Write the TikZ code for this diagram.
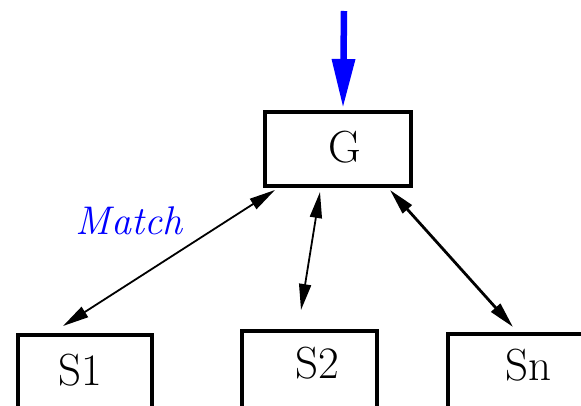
\documentclass[tikz,border=0pt]{standalone}
\usepackage{fontspec}
\usetikzlibrary{arrows.meta}
\begin{document}
\begin{tikzpicture}[x=1pt,y=1pt,
  box/.style={draw=black,line width=4pt,rectangle,inner sep=0pt},
  lbl/.style={anchor=base,inner sep=0pt,font=\fontsize{45}{52}\selectfont},
  link/.style={draw=black,{Triangle[length=26pt,width=12pt]}-{Triangle[length=26pt,width=12pt]}},
  feed/.style={draw=blue,line width=6.5pt,-{Triangle[length=49pt,width=22pt]}}]
\useasboundingbox (0,0) rectangle (581,405);
\clip (0,0) rectangle (581,405);
% boxes
\node[box,minimum width=146pt,minimum height=74pt] (G) at (338,256) {};
\node[box,minimum width=134pt,minimum height=90pt] (S1) at (85,25) {};
\node[box,minimum width=135pt,minimum height=94pt] (S2) at (309.5,27) {};
\node[box,minimum width=152pt,minimum height=91pt] (Sn) at (523.75,25.5) {};
% labels
\node[lbl] (Gt) at (344.5,243) {G};
\node[lbl] (S1t) at (80,20) {S1};
\node[lbl] (S2t) at (317,27) {S2};
\node[lbl] (Snt) at (528,25) {Sn};
\node[anchor=base,inner sep=0pt,text=blue,font=\fontsize{40}{46}\selectfont\itshape] (match) at (129,171) {Match};
% connectors
\coordinate (top) at (344,394);
\draw[feed] (top) -- ([xshift=-1pt,yshift=2pt]G.north -| top);
\draw[link,line width=1.8pt] ([xshift=-22pt,yshift=7pt]S1.north) -- ([xshift=12pt,yshift=-2pt]G.south west);
\draw[link,line width=1.8pt] ([xshift=-8.5pt,yshift=19pt]S2.north) -- ([xshift=-18pt,yshift=-4pt]G.south);
\draw[link,line width=2.8pt] ([xshift=-10.75pt,yshift=5pt]Sn.north) -- ([xshift=-23pt,yshift=-2pt]G.south east);
\end{tikzpicture}
\end{document}
